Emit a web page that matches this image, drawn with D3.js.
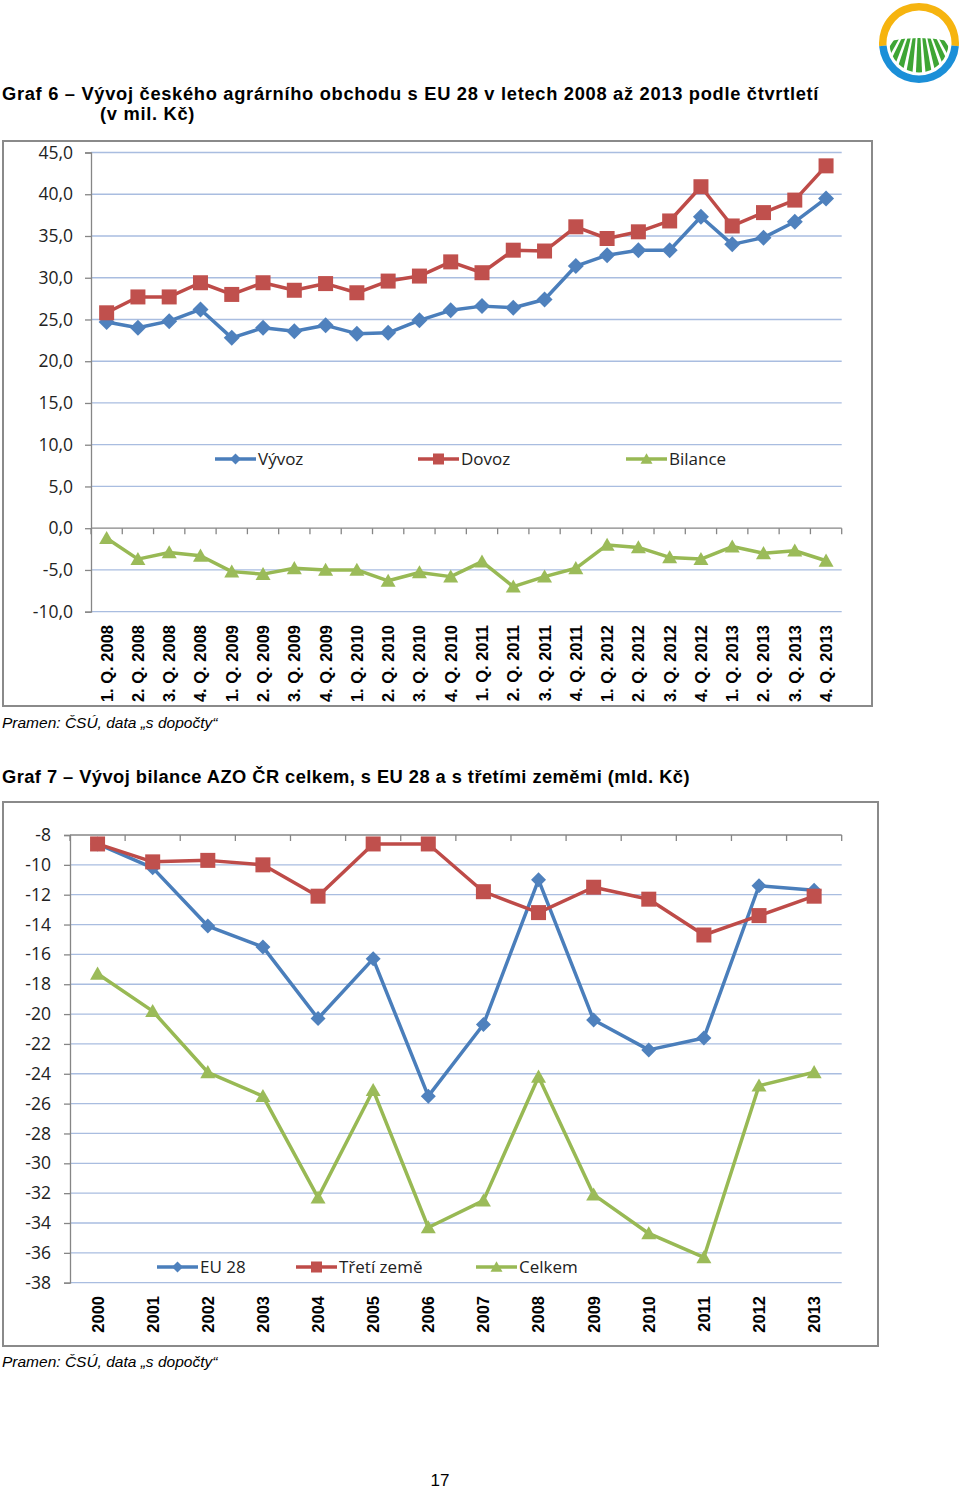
<!DOCTYPE html>
<html><head><meta charset="utf-8">
<script src="https://cdn.jsdelivr.net/npm/d3@7"></script>
<style>
body{margin:0;background:#fff;}
svg{display:block;}
</style></head>
<body>
<script>
// ---------- DATA ----------
const quarters = ["1. Q. 2008","2. Q. 2008","3. Q. 2008","4. Q. 2008","1. Q. 2009","2. Q. 2009","3. Q. 2009","4. Q. 2009","1. Q. 2010","2. Q. 2010","3. Q. 2010","4. Q. 2010","1. Q. 2011","2. Q. 2011","3. Q. 2011","4. Q. 2011","1. Q. 2012","2. Q. 2012","3. Q. 2012","4. Q. 2012","1. Q. 2013","2. Q. 2013","3. Q. 2013","4. Q. 2013"];
const vyvoz   = [24.7,24.0,24.8,26.2,22.8,24.0,23.6,24.3,23.3,23.4,24.9,26.1,26.6,26.4,27.4,31.4,32.7,33.3,33.3,37.3,34.0,34.8,36.7,39.5];
const dovoz   = [25.8,27.7,27.7,29.4,28.0,29.4,28.5,29.3,28.2,29.6,30.2,31.9,30.6,33.3,33.2,36.1,34.7,35.5,36.8,40.9,36.2,37.8,39.3,43.4];
const bilance = [-1.2,-3.7,-2.9,-3.3,-5.2,-5.5,-4.8,-5.0,-5.0,-6.3,-5.3,-5.8,-4.0,-7.0,-5.8,-4.8,-2.0,-2.3,-3.5,-3.7,-2.2,-3.0,-2.7,-3.9];
const chart1Ticks = [45,40,35,30,25,20,15,10,5,0,-5,-10];
const chart1Legend = ["Vývoz","Dovoz","Bilance"];

const years = ["2000","2001","2002","2003","2004","2005","2006","2007","2008","2009","2010","2011","2012","2013"];
const eu28      = [-8.6,-10.2,-14.1,-15.5,-20.3,-16.3,-25.5,-20.7,-11.0,-20.4,-22.4,-21.6,-11.4,-11.7];
const tretiZeme = [-8.6,-9.8,-9.7,-10.0,-12.1,-8.6,-8.6,-11.8,-13.2,-11.5,-12.3,-14.7,-13.4,-12.1];
const celkem    = [-17.3,-19.8,-23.9,-25.5,-32.3,-25.1,-34.3,-32.5,-24.2,-32.1,-34.7,-36.3,-24.8,-23.9];
const chart2Ticks = [-8,-10,-12,-14,-16,-18,-20,-22,-24,-26,-28,-30,-32,-34,-36,-38];
const chart2Legend = ["EU 28","Třetí země","Celkem"];

// ---------- STYLE ----------
const C = {
  blue:{line:"#4a7ebb", fill:"#4f81bd"},
  red:{line:"#be4b48", fill:"#c0504d"},
  green:{line:"#98b954", fill:"#9bbb59"}
};
const grid = "#a9bde0", axisCol = "#868686";
const tickFont = "'Open Sans', sans-serif";
const W = 960, H = 1490;

const svg = d3.select("body").append("svg").attr("width", W).attr("height", H);

function marker(g, type, color, x, y, s) {
  if (type === "diamond") {
    const r = s/2 + 0.5;
    g.append("path").attr("d", `M${x},${y-r}L${x+r},${y}L${x},${y+r}L${x-r},${y}Z`).attr("fill", color);
  } else if (type === "square") {
    g.append("rect").attr("x", x - s/2).attr("y", y - s/2).attr("width", s).attr("height", s).attr("fill", color);
  } else {
    const h = s*0.87;
    g.append("path").attr("d", `M${x},${y-h*0.55}L${x+s/2},${y+h*0.45}L${x-s/2},${y+h*0.45}Z`).attr("fill", color);
  }
}

function drawSeries(g, x, y, cats, vals, col, type, ms) {
  const line = d3.line().x((d,i)=>x(cats[i]) + x.bandwidth()/2).y(d=>y(d));
  g.append("path").datum(vals).attr("d", line).attr("fill","none")
    .attr("stroke", col.line).attr("stroke-width", 3.5).attr("stroke-linejoin","round");
  vals.forEach((v,i)=> marker(g, type, col.fill, x(cats[i]) + x.bandwidth()/2, y(v), ms));
}

function legendItem(g, x0, yc, label, col, type, ms) {
  g.append("line").attr("x1", x0).attr("x2", x0+41).attr("y1", yc).attr("y2", yc)
    .attr("stroke", col.line).attr("stroke-width", 3.5);
  marker(g, type, col.fill, x0+20.5, yc, ms);
  g.append("text").attr("x", x0+43).attr("y", yc).attr("dy","0.36em")
    .attr("font-family", tickFont).attr("font-size", 17).attr("fill","#222").text(label);
}

// ---------- TEXTS ----------
const titleFont = "'Liberation Sans', Arial, sans-serif";
svg.append("text").attr("x", 2).attr("y", 100).attr("font-family", titleFont).attr("font-weight","bold")
  .attr("font-size", 18.3).attr("letter-spacing", 0.7)
  .text("Graf 6 – Vývoj českého agrárního obchodu s EU 28 v letech 2008 až 2013 podle čtvrtletí");
svg.append("text").attr("x", 100).attr("y", 120).attr("font-family", titleFont).attr("font-weight","bold")
  .attr("font-size", 18.3).attr("letter-spacing", 0.7).text("(v mil. Kč)");
svg.append("text").attr("x", 2).attr("y", 728).attr("font-family", titleFont).attr("font-style","italic")
  .attr("font-size", 15.5).text("Pramen: ČSÚ, data „s dopočty“");
svg.append("text").attr("x", 2).attr("y", 783).attr("font-family", titleFont).attr("font-weight","bold")
  .attr("font-size", 18.3).attr("letter-spacing", 0.45)
  .text("Graf 7 – Vývoj bilance AZO ČR celkem, s EU 28 a s třetími zeměmi (mld. Kč)");
svg.append("text").attr("x", 2).attr("y", 1367).attr("font-family", titleFont).attr("font-style","italic")
  .attr("font-size", 15.5).text("Pramen: ČSÚ, data „s dopočty“");
svg.append("text").attr("x", 440).attr("y", 1486).attr("text-anchor","middle").attr("font-family", titleFont)
  .attr("font-size", 17).text("17");

// ---------- LOGO ----------
(function(){
  const g = svg.append("g").attr("transform","translate(919,43)");
  const ro = 40, ri = 32.5;
  const arc = d3.arc().innerRadius(ri).outerRadius(ro);
  g.append("path").attr("d", arc({startAngle:-Math.PI/2-0.08, endAngle:Math.PI/2+0.08})).attr("fill","#f6b40f");
  g.append("path").attr("d", arc({startAngle:Math.PI/2+0.08, endAngle:3*Math.PI/2-0.08})).attr("fill","#1b8fd8");
  const defs = svg.append("defs");
  defs.append("clipPath").attr("id","logoclip").append("path")
    .attr("d", `M${-ri+3},-2 Q0,-8 ${ri-3},-2 L${ri},40 L${-ri},40Z`);
  const clipC = defs.append("clipPath").attr("id","logoclip2");
  clipC.append("circle").attr("r", ri-3);
  const sg = g.append("g").attr("clip-path","url(#logoclip2)").append("g").attr("clip-path","url(#logoclip)");
  const n = 9, vy = -40;
  for (let i=0;i<n;i++){
    const a0 = -0.62 + i*(1.24/n) + 0.025, a1 = a0 + 1.24/n - 0.05;
    const L = 120;
    sg.append("path").attr("d", `M0,${vy}L${Math.sin(a0)*L},${vy+Math.cos(a0)*L}L${Math.sin(a1)*L},${vy+Math.cos(a1)*L}Z`)
      .attr("fill","#3ea535");
  }
})();

// ---------- CHART 1 ----------
(function(){
  const g = svg.append("g");
  g.append("rect").attr("x",3).attr("y",141).attr("width",869).attr("height",565)
    .attr("fill","none").attr("stroke","#8a8a8a").attr("stroke-width",2);
  const x = d3.scaleBand().domain(quarters).range([91, 841.7]);
  const y = d3.scaleLinear().domain([-10,45]).range([611.7,152.5]);
  g.selectAll(".g1").data(chart1Ticks.filter(d=>d!==0)).enter().append("line")
    .attr("x1",91).attr("x2",841.7).attr("y1",d=>y(d)).attr("y2",d=>y(d))
    .attr("stroke",grid).attr("stroke-width",1.3);
  const ya = g.append("g").attr("transform","translate(91,0)")
    .call(d3.axisLeft(y).tickValues(chart1Ticks).tickSize(6).tickPadding(12)
      .tickFormat(d=>d.toFixed(1).replace(".",",")));
  ya.select(".domain").attr("stroke",axisCol).attr("stroke-width",1.3);
  ya.selectAll(".tick line").attr("stroke",axisCol).attr("stroke-width",1.3);
  ya.selectAll("text").attr("font-family",tickFont).attr("font-size",17.5).attr("fill","#222");
  const xa = g.append("g").attr("transform",`translate(0,${y(0)})`);
  xa.append("line").attr("x1",91).attr("x2",841.7).attr("stroke",axisCol).attr("stroke-width",1.3);
  const bounds = quarters.map(q=>x(q)).concat([x.range()[1]]);
  xa.selectAll(".bt").data(bounds).enter().append("line").attr("x1",d=>d).attr("x2",d=>d)
    .attr("y1",0).attr("y2",6).attr("stroke",axisCol).attr("stroke-width",1.3);
  g.selectAll(".xl").data(quarters).enter().append("text")
    .attr("transform",d=>`translate(${x(d)+x.bandwidth()/2},625) rotate(-90)`)
    .attr("text-anchor","end").attr("dy","0.36em")
    .attr("font-family",titleFont).attr("font-weight","bold").attr("font-size",16.5).text(d=>d);
  drawSeries(g, x, y, quarters, vyvoz, C.blue, "diamond", 15);
  drawSeries(g, x, y, quarters, dovoz, C.red, "square", 15);
  drawSeries(g, x, y, quarters, bilance, C.green, "triangle", 15);
  legendItem(g, 215, 459, chart1Legend[0], C.blue, "diamond", 10);
  legendItem(g, 418, 459, chart1Legend[1], C.red, "square", 11);
  legendItem(g, 626, 459, chart1Legend[2], C.green, "triangle", 12);
})();

// ---------- CHART 2 ----------
(function(){
  const g = svg.append("g");
  g.append("rect").attr("x",3).attr("y",802).attr("width",875).attr("height",544)
    .attr("fill","none").attr("stroke","#8a8a8a").attr("stroke-width",2);
  const x = d3.scaleBand().domain(years).range([70, 841.7]);
  const y = d3.scaleLinear().domain([-38,-8]).range([1282.7,835]);
  g.selectAll(".g2").data(chart2Ticks.filter(d=>d!==-8)).enter().append("line")
    .attr("x1",70).attr("x2",841.7).attr("y1",d=>y(d)).attr("y2",d=>y(d))
    .attr("stroke",grid).attr("stroke-width",1.3);
  const ya = g.append("g").attr("transform","translate(70,0)")
    .call(d3.axisLeft(y).tickValues(chart2Ticks).tickSize(6).tickPadding(13).tickFormat(d=>String(d)));
  ya.select(".domain").attr("stroke",axisCol).attr("stroke-width",1.3);
  ya.selectAll(".tick line").attr("stroke",axisCol).attr("stroke-width",1.3);
  ya.selectAll("text").attr("font-family",tickFont).attr("font-size",17.5).attr("fill","#222");
  const xa = g.append("g").attr("transform",`translate(0,${y(-8)})`);
  xa.append("line").attr("x1",70).attr("x2",841.7).attr("stroke",axisCol).attr("stroke-width",1.3);
  const bounds = years.map(q=>x(q)).concat([x.range()[1]]);
  xa.selectAll(".bt").data(bounds).enter().append("line").attr("x1",d=>d).attr("x2",d=>d)
    .attr("y1",0).attr("y2",6).attr("stroke",axisCol).attr("stroke-width",1.3);
  g.selectAll(".xl").data(years).enter().append("text")
    .attr("transform",d=>`translate(${x(d)+x.bandwidth()/2},1296) rotate(-90)`)
    .attr("text-anchor","end").attr("dy","0.36em")
    .attr("font-family",titleFont).attr("font-weight","bold").attr("font-size",16.5).text(d=>d);
  drawSeries(g, x, y, years, eu28, C.blue, "diamond", 14);
  drawSeries(g, x, y, years, tretiZeme, C.red, "square", 15);
  drawSeries(g, x, y, years, celkem, C.green, "triangle", 15);
  legendItem(g, 157, 1267, chart2Legend[0], C.blue, "diamond", 10);
  legendItem(g, 296, 1267, chart2Legend[1], C.red, "square", 11);
  legendItem(g, 476, 1267, chart2Legend[2], C.green, "triangle", 12);
})();
</script>
</body></html>
